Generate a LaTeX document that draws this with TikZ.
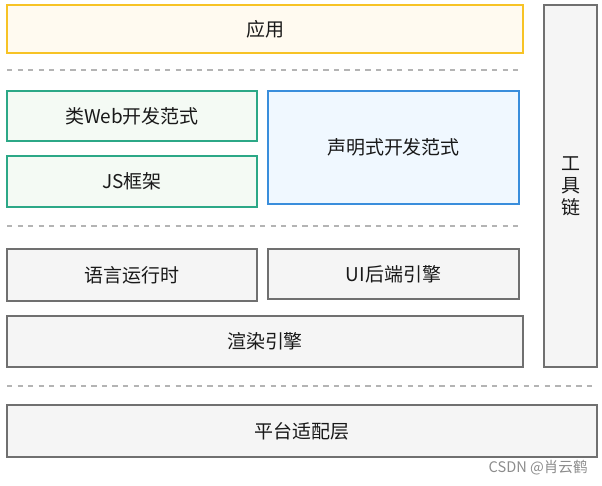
\documentclass[tikz,border=0pt]{standalone}
\usepackage{fontspec}
\setmainfont{Noto Sans CJK SC}
\usepackage{xcolor}
\usetikzlibrary{positioning}

\definecolor{appborder}{HTML}{F7C325}
\definecolor{appfill}{HTML}{FFFAF0}
\definecolor{webborder}{HTML}{2CA887}
\definecolor{webfill}{HTML}{F4FAF4}
\definecolor{declborder}{HTML}{3A8EDC}
\definecolor{declfill}{HTML}{F0F8FF}
\definecolor{baseborder}{HTML}{707070}
\definecolor{basefill}{HTML}{F5F5F5}
\definecolor{sepline}{HTML}{B4B4B4}

\tikzset{
	layer/.style={draw, line width=0.8pt, inner sep=0pt, font=\fontsize{10.8}{12}\selectfont, text=black!90},
	applayer/.style={layer, draw=appborder, fill=appfill},
	weblayer/.style={layer, draw=webborder, fill=webfill},
	decllayer/.style={layer, draw=declborder, fill=declfill},
	baselayer/.style={layer, draw=baseborder, fill=basefill},
	sep/.style={sepline, dashed, line width=0.6pt}
}

\begin{document}
\begin{tikzpicture}
	
	\useasboundingbox (0,0) rectangle (12.04,-9.70);
	
	% top: application
	\node[applayer, minimum width=10.32cm, minimum height=0.96cm] (app) at (5.30,-0.58) {应用};
	
	% separator
	\coordinate (s1l) at (0.14,-1.40);
	\coordinate (s1r) at (10.46,-1.40);
	\draw[sep] (s1l) -- (s1r);
	
	% development paradigms
	\node[weblayer, minimum width=5.00cm, minimum height=1.00cm] (webpar) at (2.64,-2.32) {类Web开发范式};
	\node[weblayer, minimum width=5.00cm, minimum height=1.02cm] (jsfw) at (2.64,-3.63) {JS框架};
	\node[decllayer, minimum width=5.02cm, minimum height=2.26cm] (declpar) at (7.87,-2.95) {声明式开发范式};
	
	% separator
	\coordinate (s2l) at (0.14,-4.52);
	\coordinate (s2r) at (10.46,-4.52);
	\draw[sep] (s2l) -- (s2r);
	
	% runtime and engines
	\node[baselayer, minimum width=5.00cm, minimum height=1.04cm] (runtime) at (2.64,-5.50) {语言运行时};
	\node[baselayer, minimum width=5.02cm, minimum height=1.00cm] (uiback) at (7.87,-5.48) {UI后端引擎};
	\node[baselayer, minimum width=10.32cm, minimum height=1.02cm] (render) at (5.30,-6.83) {渲染引擎};
	
	% toolchain on the right
	\node[baselayer, minimum width=1.06cm, minimum height=7.24cm, align=center, font=\fontsize{10.8}{12.4}\selectfont] (tools) at (11.41,-3.72) {工\\具\\链};
	
	% separator
	\coordinate (s3l) at (0.14,-7.72);
	\coordinate (s3r) at (11.94,-7.72);
	\draw[sep] (s3l) -- (s3r);
	
	% platform adaptation
	\node[baselayer, minimum width=11.80cm, minimum height=1.04cm] (platform) at (6.04,-8.62) {平台适配层};
	
	% watermark
	\node[anchor=east, text=black!45, font=\fontsize{8.3}{9}\selectfont, inner sep=0pt] (mark) at (11.76,-9.36) {CSDN @肖云鹤};
	
\end{tikzpicture}
\end{document}
